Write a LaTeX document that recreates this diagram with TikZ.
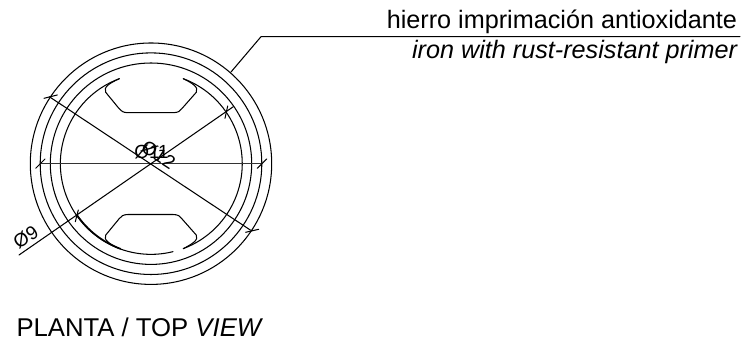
\documentclass[tikz,border=0pt]{standalone}
\usepackage{fontspec}
\setmainfont{Liberation Sans}
\tikzset{
  ln/.style={line width=1.05pt,black,line cap=round,line join=round},
  lbl/.style={inner sep=0pt,outer sep=0pt,font=\fontsize{25.2}{30}\selectfont,text=black},
  dim/.style={inner sep=0pt,outer sep=0pt,font=\fontsize{19}{20}\selectfont,text=black},
}
\begin{document}
\begin{tikzpicture}[x=1pt,y=-1pt]
\useasboundingbox (0,0) rectangle (741,344);
\coordinate (c) at (151,163.7);
% concentric circles
\draw[ln] (c) circle[radius=120.7];
\draw[ln] (c) circle[radius=110.8];
\draw[ln] (c) circle[radius=100.7];
% inner arcs
\draw[ln] (119.3,78.7) arc[start angle=249.5,end angle=76,radius=90.7];
\draw[ln] (183.3,78.7) arc[start angle=-69.5,end angle=69.5,radius=90.7];
\draw[line width=1.6pt,black] (77,215) arc[start angle=145.5,end angle=110,radius=90.7];
% top opening
\draw[ln] (119.3,78.7) .. controls (110,83) and (103,87) .. (105.7,92.3)
  -- (119,108.5) .. controls (121,111) and (123,112.7) .. (128,112.7)
  -- (173,112.7) .. controls (178,112.7) and (180.5,111) .. (182,108.5)
  -- (196.3,92.3) .. controls (199,87) and (192,83) .. (183.3,78.7);
% bottom opening
\draw[ln] (119.3,248.7) .. controls (110,244) and (103,240) .. (105.7,235.1)
  -- (119,218.9) .. controls (121,216.4) and (123,214.5) .. (128,214.5)
  -- (173,214.5) .. controls (178,214.5) and (180.5,216.4) .. (182,218.9)
  -- (196.3,235.1) .. controls (199,240) and (192,244) .. (183.3,248.7);
% dimension lines
\coordinate (h1) at (40.7,163.7);
\coordinate (h2) at (262,163.7);
\draw[line width=1.3pt,black!80] (h1) -- (h2);
\draw[ln] (35.7,168.3) -- (45,159);
\draw[ln] (257.3,168.3) -- (266.7,159);
\coordinate (d1a) at (49.3,96.7);
\coordinate (d1b) at (250.7,230.3);
\draw[ln] (d1a) -- (d1b);
\draw[ln] (44,98.3) -- (57.3,95);
\draw[ln] (245.7,232.3) -- (258.7,229.3);
\coordinate (d2a) at (19,255);
\coordinate (d2b) at (233.3,106.7);
\draw[ln] (d2a) -- (d2b);
\draw[ln] (75.3,221.7) -- (78.3,210);
\draw[ln] (225,118.3) -- (227.7,106);
% dimension texts
\node[dim,rotate=33] (t9) at (25.7,236.7) {Ø9};
\node[dim,rotate=-33] (t12) at (158.5,154.5) {Ø12};
\node[dim] (t11) at (151.5,151.5) {Ø11};
% leader
\coordinate (l0) at (231,72);
\coordinate (l1) at (261,36.7);
\coordinate (l2) at (740,36.7);
\draw[ln] (l0) -- (l1) -- (l2);
% texts
\node[lbl,anchor=base east] (es) at (737,28.5) {hierro imprimación antioxidante};
\node[lbl,anchor=base east] (en) at (737,59) {\itshape iron with rust-resistant primer};
\node[lbl,anchor=base west,font=\fontsize{25.7}{30}\selectfont] (pl) at (16.5,336) {PLANTA / TOP \textit{VIEW}};
\end{tikzpicture}
\end{document}
